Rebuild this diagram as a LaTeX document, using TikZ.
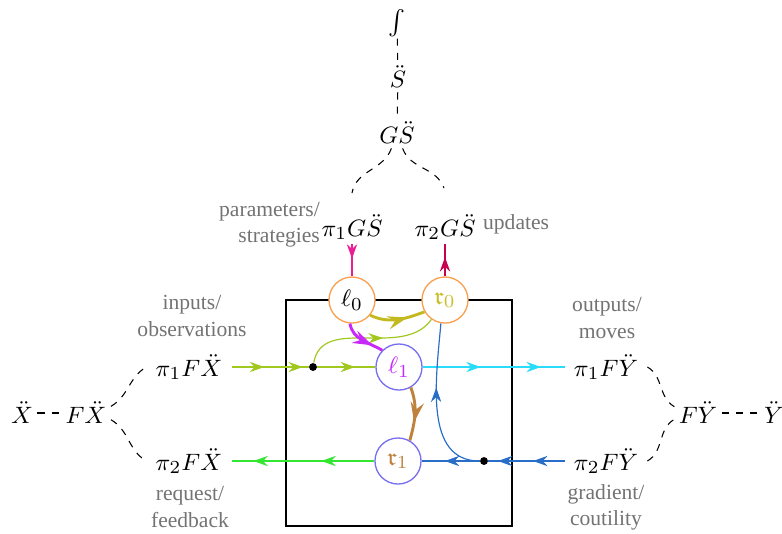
\documentclass[tikz,border=0pt]{standalone}
\usepackage{amsmath,amssymb}
\usepackage{fontspec}
\newfontfamily\labfont{Liberation Serif}
\usetikzlibrary{arrows.meta,decorations.markings}
\definecolor{orangec}{RGB}{248,160,80}
\definecolor{violc}{RGB}{120,110,240}
\definecolor{rzeroc}{RGB}{200,190,40}
\definecolor{olivec}{RGB}{195,185,30}
\definecolor{magc}{RGB}{200,40,250}
\definecolor{limec}{RGB}{160,200,30}
\definecolor{cyanc}{RGB}{40,220,250}
\definecolor{greenc}{RGB}{50,230,50}
\definecolor{bluec}{RGB}{40,110,200}
\definecolor{brownc}{RGB}{190,130,60}
\definecolor{pinkc}{RGB}{235,30,150}
\definecolor{crimc}{RGB}{200,0,80}
\definecolor{labgray}{RGB}{115,115,115}
\tikzset{
  mn/.style={inner sep=1.5pt},
  cir/.style={circle, draw=#1, fill=white, minimum size=17.5pt, inner sep=0pt, line width=0.5pt},
  lab/.style={font=\labfont\fontsize{8.2}{10}\selectfont, text=labgray, align=center, inner sep=1pt},
  dsh/.style={dash pattern=on 2.7pt off 2.7pt, line width=0.4pt},
  midarr/.style={postaction={decorate}, line width=0.45pt,
    decoration={markings, mark=at position #1 with {\arrow{Stealth[length=5.5pt,width=3.9pt,inset=1.8pt]}}}},
  midarr/.default=0.55,
  bigarr/.style={postaction={decorate}, line width=1.1pt,
    decoration={markings, mark=at position #1 with {\arrow{Stealth[length=7.5pt,width=5pt,inset=2.6pt]}}}},
  bigarr/.default=0.65,
  dotn/.style={circle, fill=black, inner sep=0pt, minimum size=3pt}
}
\begin{document}
\begin{tikzpicture}[x=0.38pt,y=-0.38pt,font=\fontsize{9.4}{11}\selectfont]
\useasboundingbox (0,0) rectangle (782,533);
% box
\draw[line width=0.5pt] (286,300) rectangle (512,526);
\coordinate (bLa) at (286,367);
\coordinate (bRa) at (512,367);
\coordinate (bLb) at (286,461);
\coordinate (bRb) at (512,461);

% top column
\node[inner sep=0.5pt] (int) at (397,23) {$\int$};
\node[mn] (S) at (398,77) {$\ddot S$};
\node[mn] (GS) at (397,133) {$G\ddot S$};
\node[mn] (pGa) at (352,227) {$\pi_1G\ddot S$};
\node[mn] (pGb) at (445,227) {$\pi_2G\ddot S$};
\coordinate (pGat) at (352,193);
\coordinate (pGbt) at (444,188);
\node[lab, align=right, anchor=east] (lpar) at (323,225) {parameters/\\strategies};
\node[lab, anchor=west] (lupd) at (480,224) {updates};

% sides
\node[mn] (X) at (22,413) {$\ddot X$};
\node[mn] (FX) at (86,413) {$F\ddot X$};
\node (pXa) at (189,367) {$\pi_1F\ddot X$};
\node (pXb) at (189,461) {$\pi_2F\ddot X$};
\node (pYa) at (606,367) {$\pi_1F\ddot Y$};
\node (pYb) at (606,461) {$\pi_2F\ddot Y$};
\node[mn] (FY) at (698,413) {$F\ddot Y$};
\node[mn] (Y) at (774,413) {$\ddot Y$};
\node[lab] (lin) at (192,316) {inputs/\\observations};
\node[lab] (lreq) at (190,507) {request/\\feedback};
\node[lab] (lout) at (607,318) {outputs/\\moves};
\node[lab] (lgrad) at (606,507) {gradient/\\coutility};

% circles
\node[cir=orangec] (l0) at (352,300) {$\ell_0$};
\node[cir=orangec, text=rzeroc] (r0) at (445,300) {$\mathfrak{r}_0$};
\node[cir=violc, text=magc] (l1) at (399,367) {$\ell_1$};
\node[cir=violc, text=brownc] (r1) at (398,461) {$\mathfrak{r}_1$};
\node[dotn] (da) at (313,367) {};
\node[dotn] (db) at (484,461) {};

% dashed structure
\draw[dsh] (int) -- (S);
\draw[dsh] (S) -- (GS);
\draw[dsh] (GS) to[out=-110,in=80] (pGat);
\draw[dsh] (GS) to[out=-70,in=110] (pGbt);
\draw[dsh] (X) -- (FX);
\draw[dsh] (FX.15) to[out=30,in=-150] (pXa.west);
\draw[dsh] (FX.-15) to[out=-30,in=150] (pXb.west);
\draw[dsh] (FY) -- (Y);
\draw[dsh] (pYa.east) to[out=-30,in=150] (FY.165);
\draw[dsh] (pYb.east) to[out=30,in=-150] (FY.-165);

% wires
\draw[limec, midarr=0.6] (pXa.east) -- (bLa);
\draw[limec, midarr=0.75] (bLa) -- (da);
\draw[limec, midarr=0.65] (da) -- (l1);
\draw[limec, midarr=0.6] (da) to[out=80,in=-125] (r0);
\draw[cyanc, midarr=0.65] (l1) -- (bRa);
\draw[cyanc, midarr=0.55] (bRa) -- (pYa.west);
\draw[bluec, midarr=0.6] (pYb.west) -- (bRb);
\draw[bluec, midarr=0.6] (bRb) -- (db);
\draw[bluec, midarr=0.6] (db) -- (r1);
\draw[bluec, midarr=0.6] (db) to[out=180,in=-95] (r0.-100);
\draw[greenc, midarr=0.6] (r1) -- (bLb);
\draw[greenc, midarr=0.6] (bLb) -- (pXb.east);
\draw[pinkc, midarr=0.45] (pGa) -- (l0);
\draw[crimc, midarr=0.6] (r0) -- (pGb);

% thick arrows
\draw[olivec, bigarr=0.68] (l0.-40) to[out=-25,in=-160] (r0.-150);
\draw[magc, bigarr=0.75] (l0.-95) to[out=-80,in=150] (l1.135);
\draw[brownc, bigarr=0.65] (l1.-60) to[out=-70,in=75] (r1.60);
\end{tikzpicture}
\end{document}
